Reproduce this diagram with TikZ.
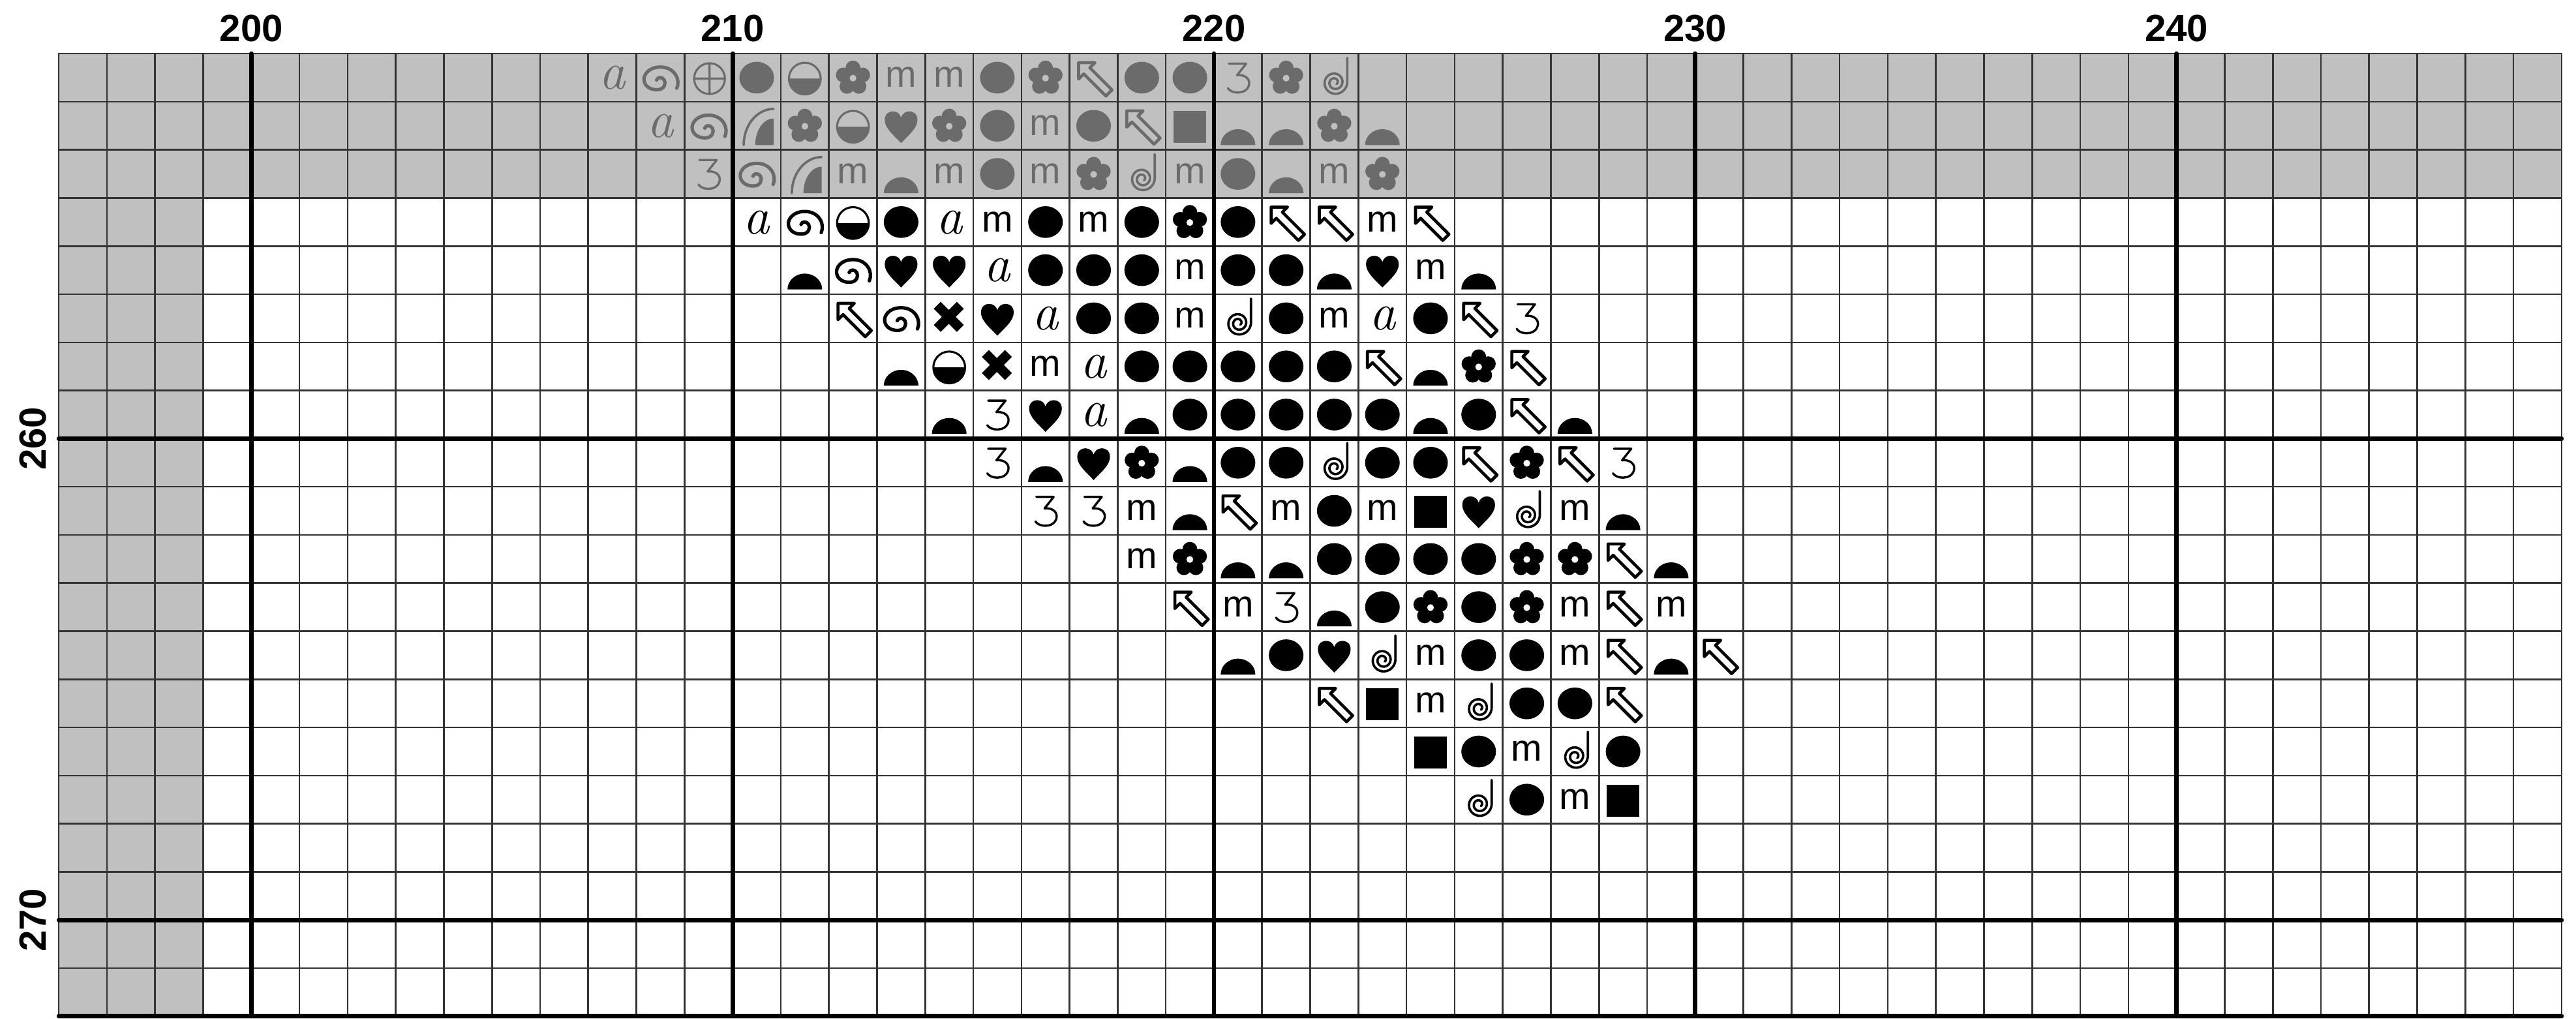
\documentclass[tikz,border=0pt]{standalone}
\usepackage{fontspec}
\newfontfamily\chartsans{Liberation Sans}

\definecolor{cellgray}{HTML}{C0C0C0}
\definecolor{symgray}{HTML}{6B6B6B}

% Chart symbols, one cell = 1 unit, drawn round the cell centre
\tikzset{
	hole/.store in=\holecol, hole=white,
	dot/.pic={\fill (0,0) ellipse [x radius=0.36, y radius=0.33];},
	square/.pic={\fill (-0.34,-0.35) rectangle (0.34,0.31);},
	dome/.pic={\fill (-0.36,-0.4) arc[start angle=180, end angle=0, x radius=0.36, y radius=0.33] -- cycle;},
	half/.pic={
		\fill (-0.33,-0.02) arc[start angle=180, end angle=360, radius=0.33] -- cycle;
		\draw[line width=0.6pt] (0,-0.02) circle[radius=0.33];
	},
	heart/.pic={
		\fill (0,-0.36) .. controls (-0.15,-0.2) and (-0.34,-0.05) .. (-0.34,0.12)
		.. controls (-0.34,0.26) and (-0.24,0.3) .. (-0.17,0.3)
		.. controls (-0.08,0.3) and (-0.02,0.24) .. (0,0.17)
		.. controls (0.02,0.24) and (0.08,0.3) .. (0.17,0.3)
		.. controls (0.24,0.3) and (0.34,0.26) .. (0.34,0.12)
		.. controls (0.34,-0.05) and (0.15,-0.2) .. (0,-0.36) -- cycle;
	},
	flower/.pic={
		\fill (0,-0.01) circle[radius=0.22];
		\foreach \a in {90,162,234,306,18}
		\fill ([yshift=-0.005cm]\a:0.21) circle[radius=0.155];
		\fill[\holecol] (0,-0.01) circle[radius=0.07];
	},
	arrow/.pic={
		\draw[line width=0.9pt, rotate=135]
		(0.44,0) -- (0.2,0.24) -- (0.2,0.09) -- (-0.45,0.09) -- (-0.45,-0.09)
		-- (0.2,-0.09) -- (0.2,-0.24) -- cycle;
	},
	cross/.pic={
		\draw[line width=2.9pt, line cap=butt]
		(-0.25,0.27) -- (0.23,-0.21) (-0.25,-0.21) -- (0.23,0.27);
	},
	oplus/.pic={
		\draw[line width=0.6pt] (0.02,-0.02) circle[radius=0.32]
		(-0.30,-0.02) -- (0.34,-0.02) (0.02,-0.34) -- (0.02,0.30);
	},
	quarter/.pic={
		\fill (0.35,-0.4) -- (-0.03,-0.4) arc[start angle=180, end angle=90, x radius=0.38, y radius=0.55] -- cycle;
		\draw[line width=0.7pt] (-0.27,-0.4) arc[start angle=180, end angle=90, x radius=0.62, y radius=0.75];
	},
	three/.pic={
		\draw[line width=0.65pt]
		(-0.19,0.29) -- (0.17,0.29) -- (-0.02,0.05)
		.. controls (0.16,0.07) and (0.25,-0.04) .. (0.23,-0.14)
		.. controls (0.21,-0.26) and (0.1,-0.31) .. (0,-0.31)
		.. controls (-0.09,-0.31) and (-0.17,-0.28) .. (-0.21,-0.22);
	},
	curl/.pic={
		\draw[line width=1pt]
		(0.34,-0.22) .. controls (0.42,-0.05) and (0.3,0.22) .. (0,0.22)
		.. controls (-0.25,0.22) and (-0.36,0.05) .. (-0.34,-0.06)
		.. controls (-0.32,-0.2) and (-0.18,-0.26) .. (-0.05,-0.25)
		.. controls (0.08,-0.24) and (0.12,-0.12) .. (0.08,-0.05)
		.. controls (0.04,0.02) and (-0.06,0.02) .. (-0.08,-0.05);
	},
	spiral/.pic={
		\draw[line width=0.7pt] (0.27,0.41) -- (0.27,-0.1)
		-- plot[domain=0:760, samples=80, smooth]
		({0.01+(0.26-0.1*\x/360)*cos(-\x)}, {-0.1+(0.26-0.1*\x/360)*sin(-\x)});
	},
	letA/.pic={
		\node[anchor=base, font=\fontsize{15.5}{16}\selectfont\itshape] (-txt) at (0,-0.24) {a};
	},
	letM/.pic={
		\node[anchor=base, font=\chartsans\fontsize{11}{12}\selectfont] (-txt) at (0,-0.2) {m};
	}
}

\begin{document}
\begin{tikzpicture}[
	x=0.5cm, y=0.5cm,
	every node/.style={inner sep=0pt},
	line cap=round,
	line join=round,
	fine/.style={line width=0.5pt, black!80},
	major/.style={line width=1.3pt, black},
	numlabel/.style={font=\chartsans\bfseries\fontsize{11.2}{12}\selectfont}
	]
	
	\useasboundingbox (-1.222,-20.05) rectangle (52.30,1.113);
	
	% Shaded margin
	\fill[cellgray] (0,0) rectangle (52,-3);
	\fill[cellgray] (0,-3) rectangle (3,-20);
	
	% Grid, every tenth line heavy
	\foreach \i in {0,...,52}
	\draw[fine] (\i,0) -- (\i,-20);
	\foreach \j in {0,...,20}
	\draw[fine] (0,-\j) -- (52,-\j);
	\foreach \i in {4,14,...,44}
	\draw[major] (\i,0) -- (\i,-20);
	\foreach \j in {8,18,20}
	\draw[major] (0,-\j) -- (52,-\j);
	
	% Stitches: row / first column / ink / hole / symbols
	\foreach \row/\col/\ink/\holec/\syms in {
		252/207/symgray/cellgray/{letA,curl,oplus,dot,half,flower,letM,letM,dot,flower,arrow,dot,dot,three,flower,spiral},
		253/208/symgray/cellgray/{letA,curl,quarter,flower,half,heart,flower,dot,letM,dot,arrow,square,dome,dome,flower,dome},
		254/209/symgray/cellgray/{three,curl,quarter,letM,dome,letM,dot,letM,flower,spiral,letM,dot,dome,letM,flower},
		255/210/black/white/{letA,curl,half,dot,letA,letM,dot,letM,dot,flower,dot,arrow,arrow,letM,arrow},
		256/211/black/white/{dome,curl,heart,heart,letA,dot,dot,dot,letM,dot,dot,dome,heart,letM,dome},
		257/212/black/white/{arrow,curl,cross,heart,letA,dot,dot,letM,spiral,dot,letM,letA,dot,arrow,three},
		258/213/black/white/{dome,half,cross,letM,letA,dot,dot,dot,dot,dot,arrow,dome,flower,arrow},
		259/214/black/white/{dome,three,heart,letA,dome,dot,dot,dot,dot,dot,dome,dot,arrow,dome},
		260/215/black/white/{three,dome,heart,flower,dome,dot,dot,spiral,dot,dot,arrow,flower,arrow,three},
		261/216/black/white/{three,three,letM,dome,arrow,letM,dot,letM,square,heart,spiral,letM,dome},
		262/218/black/white/{letM,flower,dome,dome,dot,dot,dot,dot,flower,flower,arrow,dome},
		263/219/black/white/{arrow,letM,three,dome,dot,flower,dot,flower,letM,arrow,letM},
		264/220/black/white/{dome,dot,heart,spiral,letM,dot,dot,letM,arrow,dome,arrow},
		265/222/black/white/{arrow,square,letM,spiral,dot,dot,arrow},
		266/224/black/white/{square,dot,letM,spiral,dot},
		267/225/black/white/{spiral,dot,letM,square}}
	{
		\foreach \s [count=\k from 0] in \syms
		\pic[color=\ink, hole=\holec] (s\row-\k) at ({\col-196+\k+0.5},{252-\row-0.5}) {\s};
	}
	
	% Column and row numbers
	\foreach \n [count=\k from 0] in {200,210,220,230,240}
	\node[numlabel] (col\n) at ({4+10*\k},0.52) {\n};
	\foreach \n [count=\k from 0] in {260,270}
	\node[numlabel, rotate=90] (row\n) at (-0.54,{-8-10*\k}) {\n};
	
\end{tikzpicture}
\end{document}
